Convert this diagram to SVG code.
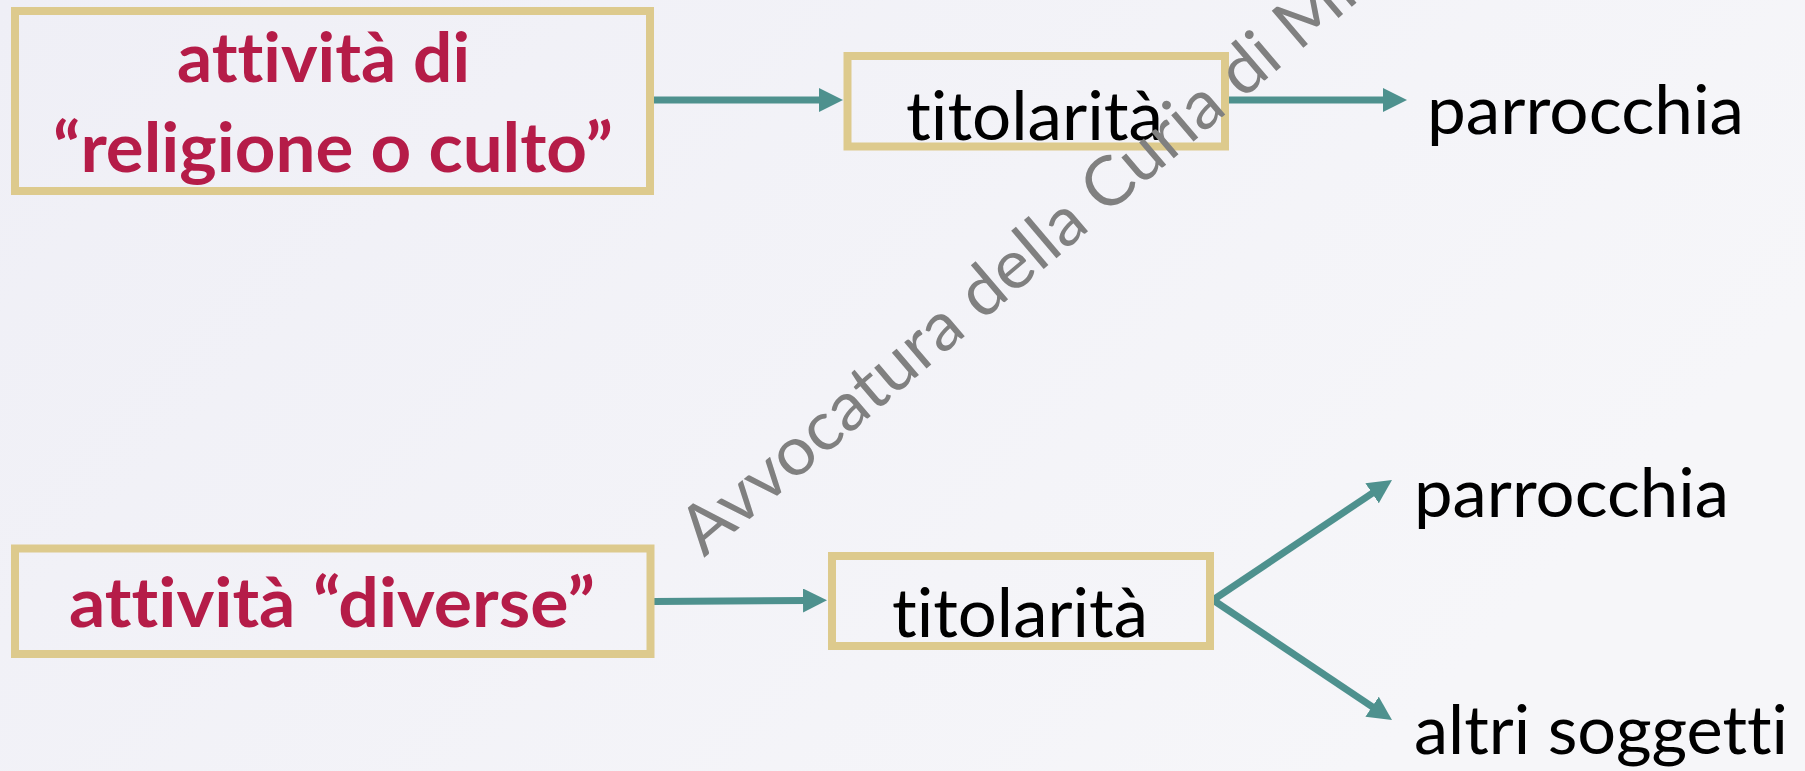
<svg xmlns="http://www.w3.org/2000/svg" width="1805" height="771" viewBox="0 0 1805 771">
<defs>
<linearGradient id="bg" x1="0" y1="0" x2="1" y2="0.4">
<stop offset="0" stop-color="#EFEFF6"/>
<stop offset="1" stop-color="#F6F6F9"/>
</linearGradient>
<marker id="ah" markerUnits="userSpaceOnUse" markerWidth="24" markerHeight="24" refX="4" refY="12" orient="auto" viewBox="0 0 24 24">
<path d="M0,0 L24,12 L0,24 z" fill="#4E918E"/>
</marker>
<style>
text{font-variant-ligatures:none;font-feature-settings:"liga" 0,"clig" 0,"dlig" 0}
.box{fill:none;stroke:#DDCA8D;stroke-width:8}
.red{font-family:Lato,'Open Sans',sans-serif;font-weight:bold;font-size:68px;fill:#B51C48}
.blk{font-family:Lato,'Open Sans',sans-serif;font-size:67px;fill:#000}
.wm{font-family:Lato,'Open Sans',sans-serif;font-size:68px;fill:#808080}
.con{stroke:#4E918E;stroke-width:7;fill:none;marker-end:url(#ah)}
</style>
</defs>
<rect x="0" y="0" width="1805" height="771" fill="url(#bg)"/>
<g id="connectors">
<line class="con" x1="654" y1="100" x2="823" y2="100"/>
<line class="con" x1="1229" y1="100" x2="1387" y2="100"/>
<line class="con" x1="654" y1="601.5" x2="807" y2="600.5"/>
<line class="con" x1="1213" y1="600" x2="1375.4" y2="491.1"/>
<line class="con" x1="1213" y1="600" x2="1375.4" y2="708.9"/>
</g>
<g id="node-religione">
<rect class="box" x="15" y="11" width="635" height="180"/>
<text class="red" x="177" y="82" textLength="293" lengthAdjust="spacingAndGlyphs">attività di</text>
<text class="red" x="53" y="171.5" textLength="560" lengthAdjust="spacingAndGlyphs">“religione o culto”</text>
</g>
<g id="node-titolarita-1">
<rect class="box" x="847.5" y="56" width="377.5" height="90.5"/>
<text class="blk" x="906" y="140" textLength="257" lengthAdjust="spacingAndGlyphs">titolarità</text>
</g>
<g id="node-parrocchia-1">
<text class="blk" x="1427" y="134" textLength="317" lengthAdjust="spacingAndGlyphs">parrocchia</text>
</g>
<g id="node-diverse">
<rect class="box" x="15" y="548.5" width="635.5" height="105.5"/>
<text class="red" x="69" y="626.5" textLength="526" lengthAdjust="spacingAndGlyphs">attività “diverse”</text>
</g>
<g id="node-titolarita-2">
<rect class="box" x="832" y="556" width="378" height="90"/>
<text class="blk" x="892" y="636.5" textLength="256" lengthAdjust="spacingAndGlyphs">titolarità</text>
</g>
<g id="node-parrocchia-2">
<text class="blk" x="1414" y="517" textLength="315" lengthAdjust="spacingAndGlyphs">parrocchia</text>
</g>
<g id="node-altri">
<text class="blk" x="1414" y="754" textLength="374" lengthAdjust="spacingAndGlyphs">altri soggetti</text>
</g>
<g id="watermark">
<text class="wm" x="704" y="558" transform="rotate(-40.4 704 558)" textLength="862" lengthAdjust="spacingAndGlyphs">Avvocatura della Curia di Mi</text>
</g>
</svg>
